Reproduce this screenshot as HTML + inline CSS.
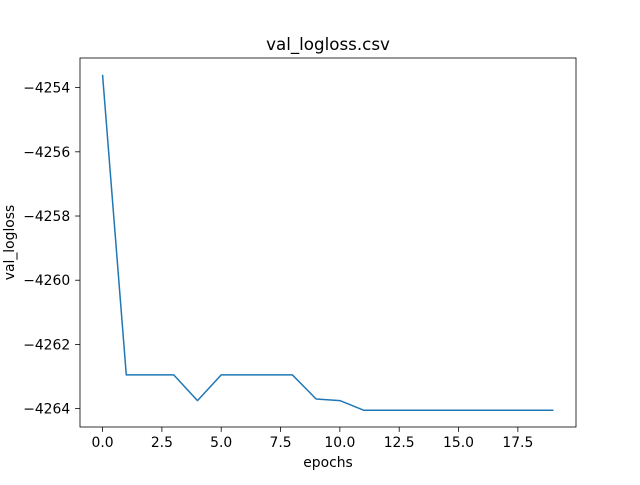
<!DOCTYPE html>
<html><head><meta charset="utf-8"><style>
body{margin:0;background:#fff;}
svg text{font-family:"DejaVu Sans","Liberation Sans",sans-serif;fill:#000;}
</style></head><body>
<svg id="chart" width="640" height="480" xmlns="http://www.w3.org/2000/svg">
<rect width="640" height="480" fill="#fff"/>
<text x="328" y="50" font-size="16.7" text-anchor="middle">val_logloss.csv</text>
<text x="328" y="467" font-size="13.9" text-anchor="middle">epochs</text>
<text transform="translate(14,242.5) rotate(-90)" font-size="13.9" text-anchor="middle">val_logloss</text>
<g id="xt"></g>
<g id="yt"></g>
<path id="line" fill="none" stroke="#1f77b4" stroke-width="1.5" stroke-linejoin="round"/>
<rect x="80" y="58" width="496" height="369" fill="none" stroke="#000" stroke-width="0.8"/>
</svg>
<script>
const epochs=[0,1,2,3,4,5,6,7,8,9,10,11,12,13,14,15,16,17,18,19];
const values=[-4253.6,-4262.95,-4262.95,-4262.95,-4263.75,-4262.95,-4262.95,-4262.95,-4262.95,-4263.7,-4263.75,-4264.05,-4264.05,-4264.05,-4264.05,-4264.05,-4264.05,-4264.05,-4264.05,-4264.05];
const xTicks=[0,2.5,5,7.5,10,12.5,15,17.5];
const xTickLabels=["0.0","2.5","5.0","7.5","10.0","12.5","15.0","17.5"];
const yTicks=[-4254,-4256,-4258,-4260,-4262,-4264];
const yTickLabels=["\u22124254","\u22124256","\u22124258","\u22124260","\u22124262","\u22124264"];
const NS="http://www.w3.org/2000/svg";
const L=80,R=576,T=58,B=427;
const xmin0=Math.min(...epochs),xmax0=Math.max(...epochs);
const ymin0=Math.min(...values),ymax0=Math.max(...values);
const xm=(xmax0-xmin0)*0.05,ym=(ymax0-ymin0)*0.05;
const xmin=xmin0-xm,xmax=xmax0+xm,ymin=ymin0-ym,ymax=ymax0+ym;
const sx=v=>L+(v-xmin)/(xmax-xmin)*(R-L);
const sy=v=>B-(v-ymin)/(ymax-ymin)*(B-T);
const xg=document.getElementById('xt'),yg=document.getElementById('yt');
xTicks.forEach((t,i)=>{
  const x=sx(t);
  const l=document.createElementNS(NS,'line');
  l.setAttribute('x1',x);l.setAttribute('x2',x);l.setAttribute('y1',B);l.setAttribute('y2',B+4.9);
  l.setAttribute('stroke','#000');l.setAttribute('stroke-width','0.8');
  
  
  xg.appendChild(l);
  const tx=document.createElementNS(NS,'text');
  tx.setAttribute('x',x);tx.setAttribute('y',B+20);tx.setAttribute('font-size','13.9');tx.setAttribute('text-anchor','middle');
  tx.textContent=xTickLabels[i];
  
  
  xg.appendChild(tx);
});
yTicks.forEach((t,i)=>{
  const y=sy(t);
  const l=document.createElementNS(NS,'line');
  l.setAttribute('x1',L-4.9);l.setAttribute('x2',L);l.setAttribute('y1',y);l.setAttribute('y2',y);
  l.setAttribute('stroke','#000');l.setAttribute('stroke-width','0.8');
  
  
  yg.appendChild(l);
  const tx=document.createElementNS(NS,'text');
  tx.setAttribute('x',L-9.8);tx.setAttribute('y',y+5);tx.setAttribute('font-size','13.9');tx.setAttribute('text-anchor','end');
  tx.textContent=yTickLabels[i];
  
  
  yg.appendChild(tx);
});
document.getElementById('line').setAttribute('d',epochs.map((e,i)=>(i?'L':'M')+sx(e).toFixed(2)+','+sy(values[i]).toFixed(2)).join(' '));
</script>
</body></html>
